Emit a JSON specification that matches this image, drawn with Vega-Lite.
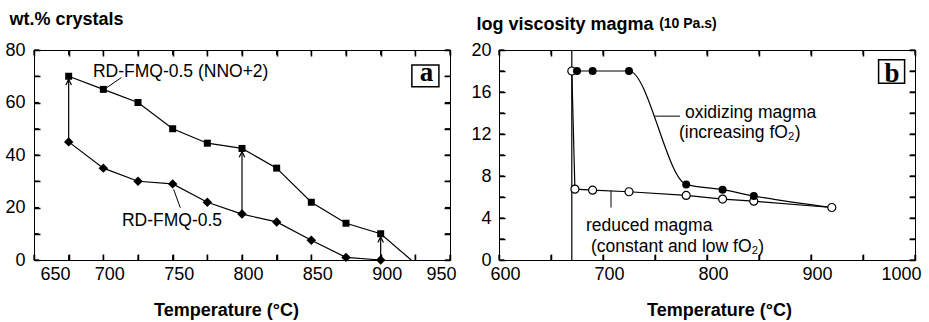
{
  "$schema": "https://vega.github.io/schema/vega-lite/v6.json",
  "background": "white",
  "padding": {"left": 4, "top": 9, "right": 0, "bottom": 0},
  "spacing": 49,
  "bounds": "flush",
  "config": {
    "view": {"stroke": "black", "strokeWidth": 1},
    "axis": {"grid": false, "domain": false, "ticks": true, "zindex": 2, "offset": -6, "tickSize": 6, "tickColor": "black", "tickWidth": 1.5, "labelColor": "black", "titleColor": "black", "labelFont": "Liberation Sans", "titleFont": "Liberation Sans", "labelFontSize": 18, "titleFontSize": 18, "titleFontWeight": "bold", "labelOverlap": false},
    "text": {"font": "Liberation Sans", "color": "black"}
  },
  "datasets": {
    "ticksAx": [{"t": 650}, {"t": 675}, {"t": 700}, {"t": 725}, {"t": 750}, {"t": 775}, {"t": 800}, {"t": 825}, {"t": 850}, {"t": 875}, {"t": 900}, {"t": 925}, {"t": 950}],
    "ticksAy": [{"t": 0}, {"t": 10}, {"t": 20}, {"t": 30}, {"t": 40}, {"t": 50}, {"t": 60}, {"t": 70}, {"t": 80}],
    "ticksBx": [{"t": 600}, {"t": 650}, {"t": 700}, {"t": 750}, {"t": 800}, {"t": 850}, {"t": 900}, {"t": 950}, {"t": 1000}],
    "ticksBy": [{"t": 0}, {"t": 2}, {"t": 4}, {"t": 6}, {"t": 8}, {"t": 10}, {"t": 12}, {"t": 14}, {"t": 16}, {"t": 18}, {"t": 20}],
    "crys": [
      {"series": "NNO+2", "T": 675, "v": 70, "mk": "square"},
      {"series": "NNO+2", "T": 700, "v": 65, "mk": "square"},
      {"series": "NNO+2", "T": 725, "v": 60, "mk": "square"},
      {"series": "NNO+2", "T": 750, "v": 50, "mk": "square"},
      {"series": "NNO+2", "T": 775, "v": 44.5, "mk": "square"},
      {"series": "NNO+2", "T": 800, "v": 42.5, "mk": "square"},
      {"series": "NNO+2", "T": 825, "v": 35, "mk": "square"},
      {"series": "NNO+2", "T": 850, "v": 22, "mk": "square"},
      {"series": "NNO+2", "T": 875, "v": 14, "mk": "square"},
      {"series": "NNO+2", "T": 900, "v": 10, "mk": "square"},
      {"series": "NNO+2", "T": 922, "v": 0, "mk": "none"},
      {"series": "FMQ", "T": 675, "v": 45, "mk": "diamond"},
      {"series": "FMQ", "T": 700, "v": 35, "mk": "diamond"},
      {"series": "FMQ", "T": 725, "v": 30, "mk": "diamond"},
      {"series": "FMQ", "T": 750, "v": 29, "mk": "diamond"},
      {"series": "FMQ", "T": 775, "v": 22, "mk": "diamond"},
      {"series": "FMQ", "T": 800, "v": 17.5, "mk": "diamond"},
      {"series": "FMQ", "T": 825, "v": 14.5, "mk": "diamond"},
      {"series": "FMQ", "T": 850, "v": 7.5, "mk": "diamond"},
      {"series": "FMQ", "T": 875, "v": 1, "mk": "diamond"},
      {"series": "FMQ", "T": 900, "v": 0, "mk": "diamond"}
    ],
    "arrows": [
      {"T": 675, "lo": 45, "hi": 70},
      {"T": 800, "lo": 17.5, "hi": 42.5},
      {"T": 900, "lo": 0, "hi": 10}
    ],
    "leadA": [
      {"T": 702, "v": 65.5, "T2": 713, "v2": 69.5},
      {"T": 750.7, "v": 26.9, "T2": 755.5, "v2": 19.9}
    ],
    "textA": [
      {"T": 692.5, "v": 71.7, "label": "RD-FMQ-0.5 (NNO+2)"},
      {"T": 713.4, "v": 14.9, "label": "RD-FMQ-0.5"}
    ],
    "boxA": [
      {"T": 922.5, "T2": 942, "v": 74.3, "v2": 66, "cx": 933, "cy": 68.3, "letter": "a"}
    ],
    "visc": [
      {"series": "reduced", "T": 670, "v": 18, "mk": "open"},
      {"series": "reduced", "T": 673, "v": 6.75, "mk": "open"},
      {"series": "reduced", "T": 690, "v": 6.65, "mk": "open"},
      {"series": "reduced", "T": 725, "v": 6.5, "mk": "open"},
      {"series": "reduced", "T": 780, "v": 6.15, "mk": "open"},
      {"series": "reduced", "T": 815, "v": 5.8, "mk": "open"},
      {"series": "reduced", "T": 845, "v": 5.6, "mk": "open"},
      {"series": "reduced", "T": 920, "v": 5.0, "mk": "open"},
      {"series": "oxidizing", "T": 675, "v": 18, "mk": "filled"},
      {"series": "oxidizing", "T": 690, "v": 18, "mk": "filled"},
      {"series": "oxidizing", "T": 725, "v": 18, "mk": "filled"},
      {"series": "oxidizing", "T": 780, "v": 7.2, "mk": "filled"},
      {"series": "oxidizing", "T": 815, "v": 6.7, "mk": "filled"},
      {"series": "oxidizing", "T": 845, "v": 6.1, "mk": "filled"},
      {"series": "oxidizing", "T": 920, "v": 5.0, "mk": "none"}
    ],
    "vline": [{"T": 670}],
    "leadB": [
      {"T": 750, "v": 13.7, "T2": 774, "v2": 13.7},
      {"T": 707.7, "v": 6.6, "T2": 707.7, "v2": 5.0}
    ],
    "textB": [
      {"T": 778.8, "v": 14.0, "label": "oxidizing magma"},
      {"T": 773, "v": 12.06, "label": "(increasing fO₂)"},
      {"T": 683.6, "v": 3.25, "label": "reduced magma"},
      {"T": 688.5, "v": 1.24, "label": "(constant and low fO₂)"}
    ],
    "unitB": [{"T": 754, "v": 22.1, "label": "(10 Pa.s)"}],
    "boxB": [
      {"T": 965, "T2": 990, "v": 19.07, "v2": 16.84, "cx": 978, "cy": 17.0, "letter": "b"}
    ]
  },
  "hconcat": [
    {
      "width": 416,
      "height": 210,
      "resolve": {"axis": {"x": "independent", "y": "independent"}},
      "layer": [
        {
          "data": {"name": "crys"},
          "mark": {"type": "line", "color": "black", "strokeWidth": 1.2},
          "encoding": {
            "x": {"field": "T", "type": "quantitative", "scale": {"domain": [650, 950], "nice": false, "zero": false},
              "axis": {"values": [650, 675, 700, 725, 750, 775, 800, 825, 850, 875, 900, 925, 950], "labelExpr": "datum.value % 50 === 0 ? datum.label : ''", "labelPadding": 5, "labelOffset": 6, "title": "Temperature (°C)", "titleX": 192, "titleY": 61, "titleBaseline": "alphabetic", "titleAlign": "center"}},
            "y": {"field": "v", "type": "quantitative", "scale": {"domain": [0, 80], "nice": false, "zero": false},
              "axis": {"values": [0, 10, 20, 30, 40, 50, 60, 70, 80], "labelExpr": "datum.value % 20 === 0 ? datum.label : ''", "labelPadding": 9, "title": "wt.% crystals", "titleAngle": 0, "titleX": -31, "titleY": -26, "titleAlign": "left", "titleBaseline": "alphabetic"}},
            "detail": {"field": "series", "type": "nominal"}
          }
        },
        {
          "data": {"name": "ticksAx"},
          "mark": {"type": "point", "shape": "M0,0L0,-1", "filled": false, "stroke": "black", "strokeWidth": 1.2, "size": 100, "opacity": 1},
          "encoding": {
            "x": {"field": "t", "type": "quantitative", "scale": {"domain": [650, 950], "nice": false, "zero": false}, "axis": null},
            "y": {"datum": 0, "type": "quantitative", "scale": {"domain": [0, 80], "nice": false, "zero": false}, "axis": null}
          }
        },
        {
          "data": {"name": "ticksAx"},
          "mark": {"type": "point", "shape": "M0,0L0,1", "filled": false, "stroke": "black", "strokeWidth": 1.2, "size": 100, "opacity": 1},
          "encoding": {
            "x": {"field": "t", "type": "quantitative", "scale": {"domain": [650, 950], "nice": false, "zero": false}, "axis": null},
            "y": {"datum": 80, "type": "quantitative", "scale": {"domain": [0, 80], "nice": false, "zero": false}, "axis": null}
          }
        },
        {
          "data": {"name": "ticksAy"},
          "mark": {"type": "point", "shape": "M0,0L1,0", "filled": false, "stroke": "black", "strokeWidth": 1.2, "size": 100, "opacity": 1},
          "encoding": {
            "x": {"datum": 650, "type": "quantitative", "scale": {"domain": [650, 950], "nice": false, "zero": false}, "axis": null},
            "y": {"field": "t", "type": "quantitative", "scale": {"domain": [0, 80], "nice": false, "zero": false}, "axis": null}
          }
        },
        {
          "data": {"name": "ticksAy"},
          "mark": {"type": "point", "shape": "M0,0L-1,0", "filled": false, "stroke": "black", "strokeWidth": 1.2, "size": 100, "opacity": 1},
          "encoding": {
            "x": {"datum": 950, "type": "quantitative", "scale": {"domain": [650, 950], "nice": false, "zero": false}, "axis": null},
            "y": {"field": "t", "type": "quantitative", "scale": {"domain": [0, 80], "nice": false, "zero": false}, "axis": null}
          }
        },
        {
          "data": {"name": "arrows"},
          "mark": {"type": "rule", "color": "black", "strokeWidth": 1.2},
          "encoding": {
            "x": {"field": "T", "type": "quantitative", "scale": {"domain": [650, 950], "nice": false, "zero": false}, "axis": null},
            "y": {"field": "lo", "type": "quantitative", "scale": {"domain": [0, 80], "nice": false, "zero": false}, "axis": null},
            "y2": {"field": "hi"}
          }
        },
        {
          "data": {"name": "arrows"},
          "mark": {"type": "point", "shape": "M-0.7,2.2L0,0.8L0.7,2.2", "filled": false, "stroke": "black", "strokeWidth": 1.2, "size": 64, "opacity": 1},
          "encoding": {
            "x": {"field": "T", "type": "quantitative", "scale": {"domain": [650, 950], "nice": false, "zero": false}, "axis": null},
            "y": {"field": "hi", "type": "quantitative", "scale": {"domain": [0, 80], "nice": false, "zero": false}, "axis": null}
          }
        },
        {
          "data": {"name": "crys"},
          "transform": [{"filter": "datum.mk != 'none'"}],
          "mark": {"type": "point", "filled": true, "color": "black", "opacity": 1},
          "encoding": {
            "x": {"field": "T", "type": "quantitative", "scale": {"domain": [650, 950], "nice": false, "zero": false},
              "axis": {"orient": "top", "values": [650, 675, 700, 725, 750, 775, 800, 825, 850, 875, 900, 925, 950], "labels": false, "title": null}},
            "y": {"field": "v", "type": "quantitative", "scale": {"domain": [0, 80], "nice": false, "zero": false},
              "axis": {"orient": "right", "values": [0, 10, 20, 30, 40, 50, 60, 70, 80], "labels": false, "title": null}},
            "shape": {"field": "series", "type": "nominal", "scale": {"domain": ["NNO+2", "FMQ"], "range": ["square", "diamond"]}, "legend": null},
            "size": {"field": "series", "type": "ordinal", "scale": {"domain": ["NNO+2", "FMQ"], "range": [49, 90]}, "legend": null}
          }
        },
        {
          "data": {"name": "leadA"},
          "mark": {"type": "rule", "color": "black", "strokeWidth": 1},
          "encoding": {
            "x": {"field": "T", "type": "quantitative", "scale": {"domain": [650, 950], "nice": false, "zero": false}, "axis": null},
            "y": {"field": "v", "type": "quantitative", "scale": {"domain": [0, 80], "nice": false, "zero": false}, "axis": null},
            "x2": {"field": "T2"},
            "y2": {"field": "v2"}
          }
        },
        {
          "data": {"name": "textA"},
          "mark": {"type": "text", "align": "left", "baseline": "middle", "fontSize": 17.5, "color": "black"},
          "encoding": {
            "x": {"field": "T", "type": "quantitative", "scale": {"domain": [650, 950], "nice": false, "zero": false}, "axis": null},
            "y": {"field": "v", "type": "quantitative", "scale": {"domain": [0, 80], "nice": false, "zero": false}, "axis": null},
            "text": {"field": "label"}
          }
        },
        {
          "data": {"name": "boxA"},
          "mark": {"type": "rect", "fill": "white", "stroke": "black", "strokeWidth": 1.5},
          "encoding": {
            "x": {"field": "T", "type": "quantitative", "scale": {"domain": [650, 950], "nice": false, "zero": false}, "axis": null},
            "x2": {"field": "T2"},
            "y": {"field": "v", "type": "quantitative", "scale": {"domain": [0, 80], "nice": false, "zero": false}, "axis": null},
            "y2": {"field": "v2"}
          }
        },
        {
          "data": {"name": "boxA"},
          "mark": {"type": "text", "align": "center", "baseline": "alphabetic", "font": "Liberation Serif", "fontWeight": "bold", "fontSize": 27, "color": "black"},
          "encoding": {
            "x": {"field": "cx", "type": "quantitative", "scale": {"domain": [650, 950], "nice": false, "zero": false}, "axis": null},
            "y": {"field": "cy", "type": "quantitative", "scale": {"domain": [0, 80], "nice": false, "zero": false}, "axis": null},
            "text": {"field": "letter"}
          }
        }
      ]
    },
    {
      "width": 416,
      "height": 210,
      "resolve": {"axis": {"x": "independent", "y": "independent"}},
      "layer": [
        {
          "data": {"name": "visc"},
          "transform": [{"filter": "datum.series == 'reduced'"}],
          "mark": {"type": "line", "color": "black", "strokeWidth": 1.2},
          "encoding": {
            "x": {"field": "T", "type": "quantitative", "scale": {"domain": [600, 1000], "nice": false, "zero": false},
              "axis": {"values": [600, 650, 700, 750, 800, 850, 900, 950, 1000], "format": "d", "labelExpr": "datum.value % 100 === 0 ? datum.label : ''", "labelPadding": 5, "labelOffset": 6, "labelAlign": {"condition": {"test": "datum.value === 1000", "value": "right"}, "value": "center"}, "title": "Temperature (°C)", "titleX": 220, "titleY": 61, "titleBaseline": "alphabetic", "titleAlign": "center"}},
            "y": {"field": "v", "type": "quantitative", "scale": {"domain": [0, 20], "nice": false, "zero": false},
              "axis": {"values": [0, 2, 4, 6, 8, 10, 12, 14, 16, 18, 20], "labelExpr": "datum.value % 4 === 0 ? datum.label : ''", "labelPadding": 8, "title": "log viscosity magma", "titleAngle": 0, "titleX": -29, "titleY": -21, "titleAlign": "left", "titleBaseline": "alphabetic"}}
          }
        },
        {
          "data": {"name": "ticksBx"},
          "mark": {"type": "point", "shape": "M0,0L0,-1", "filled": false, "stroke": "black", "strokeWidth": 1.2, "size": 100, "opacity": 1},
          "encoding": {
            "x": {"field": "t", "type": "quantitative", "scale": {"domain": [600, 1000], "nice": false, "zero": false}, "axis": null},
            "y": {"datum": 0, "type": "quantitative", "scale": {"domain": [0, 20], "nice": false, "zero": false}, "axis": null}
          }
        },
        {
          "data": {"name": "ticksBx"},
          "mark": {"type": "point", "shape": "M0,0L0,1", "filled": false, "stroke": "black", "strokeWidth": 1.2, "size": 100, "opacity": 1},
          "encoding": {
            "x": {"field": "t", "type": "quantitative", "scale": {"domain": [600, 1000], "nice": false, "zero": false}, "axis": null},
            "y": {"datum": 20, "type": "quantitative", "scale": {"domain": [0, 20], "nice": false, "zero": false}, "axis": null}
          }
        },
        {
          "data": {"name": "ticksBy"},
          "mark": {"type": "point", "shape": "M0,0L1,0", "filled": false, "stroke": "black", "strokeWidth": 1.2, "size": 100, "opacity": 1},
          "encoding": {
            "x": {"datum": 600, "type": "quantitative", "scale": {"domain": [600, 1000], "nice": false, "zero": false}, "axis": null},
            "y": {"field": "t", "type": "quantitative", "scale": {"domain": [0, 20], "nice": false, "zero": false}, "axis": null}
          }
        },
        {
          "data": {"name": "ticksBy"},
          "mark": {"type": "point", "shape": "M0,0L-1,0", "filled": false, "stroke": "black", "strokeWidth": 1.2, "size": 100, "opacity": 1},
          "encoding": {
            "x": {"datum": 1000, "type": "quantitative", "scale": {"domain": [600, 1000], "nice": false, "zero": false}, "axis": null},
            "y": {"field": "t", "type": "quantitative", "scale": {"domain": [0, 20], "nice": false, "zero": false}, "axis": null}
          }
        },
        {
          "data": {"name": "visc"},
          "transform": [{"filter": "datum.series == 'oxidizing'"}],
          "mark": {"type": "line", "color": "black", "strokeWidth": 1.2, "interpolate": "monotone"},
          "encoding": {
            "x": {"field": "T", "type": "quantitative", "scale": {"domain": [600, 1000], "nice": false, "zero": false}, "axis": null},
            "y": {"field": "v", "type": "quantitative", "scale": {"domain": [0, 20], "nice": false, "zero": false}, "axis": null}
          }
        },
        {
          "data": {"name": "vline"},
          "mark": {"type": "rule", "color": "black", "strokeWidth": 1.2},
          "encoding": {
            "x": {"field": "T", "type": "quantitative", "scale": {"domain": [600, 1000], "nice": false, "zero": false}, "axis": null}
          }
        },
        {
          "data": {"name": "visc"},
          "transform": [{"filter": "datum.mk == 'open'"}],
          "mark": {"type": "point", "shape": "circle", "filled": true, "fill": "white", "stroke": "black", "strokeWidth": 1.2, "size": 64, "opacity": 1},
          "encoding": {
            "x": {"field": "T", "type": "quantitative", "scale": {"domain": [600, 1000], "nice": false, "zero": false},
              "axis": {"orient": "top", "values": [600, 650, 700, 750, 800, 850, 900, 950, 1000], "labels": false, "title": null}},
            "y": {"field": "v", "type": "quantitative", "scale": {"domain": [0, 20], "nice": false, "zero": false},
              "axis": {"orient": "right", "values": [0, 2, 4, 6, 8, 10, 12, 14, 16, 18, 20], "labels": false, "title": null}}
          }
        },
        {
          "data": {"name": "visc"},
          "transform": [{"filter": "datum.mk == 'filled'"}],
          "mark": {"type": "point", "shape": "circle", "filled": true, "color": "black", "size": 64, "opacity": 1},
          "encoding": {
            "x": {"field": "T", "type": "quantitative", "scale": {"domain": [600, 1000], "nice": false, "zero": false}, "axis": null},
            "y": {"field": "v", "type": "quantitative", "scale": {"domain": [0, 20], "nice": false, "zero": false}, "axis": null}
          }
        },
        {
          "data": {"name": "leadB"},
          "mark": {"type": "rule", "color": "black", "strokeWidth": 1},
          "encoding": {
            "x": {"field": "T", "type": "quantitative", "scale": {"domain": [600, 1000], "nice": false, "zero": false}, "axis": null},
            "y": {"field": "v", "type": "quantitative", "scale": {"domain": [0, 20], "nice": false, "zero": false}, "axis": null},
            "x2": {"field": "T2"},
            "y2": {"field": "v2"}
          }
        },
        {
          "data": {"name": "textB"},
          "mark": {"type": "text", "align": "left", "baseline": "middle", "fontSize": 17.5, "color": "black"},
          "encoding": {
            "x": {"field": "T", "type": "quantitative", "scale": {"domain": [600, 1000], "nice": false, "zero": false}, "axis": null},
            "y": {"field": "v", "type": "quantitative", "scale": {"domain": [0, 20], "nice": false, "zero": false}, "axis": null},
            "text": {"field": "label"}
          }
        },
        {
          "data": {"name": "unitB"},
          "mark": {"type": "text", "align": "left", "baseline": "alphabetic", "fontSize": 14, "fontWeight": "bold", "color": "black"},
          "encoding": {
            "x": {"field": "T", "type": "quantitative", "scale": {"domain": [600, 1000], "nice": false, "zero": false}, "axis": null},
            "y": {"field": "v", "type": "quantitative", "scale": {"domain": [0, 20], "nice": false, "zero": false}, "axis": null},
            "text": {"field": "label"}
          }
        },
        {
          "data": {"name": "boxB"},
          "mark": {"type": "rect", "fill": "white", "stroke": "black", "strokeWidth": 1.5},
          "encoding": {
            "x": {"field": "T", "type": "quantitative", "scale": {"domain": [600, 1000], "nice": false, "zero": false}, "axis": null},
            "x2": {"field": "T2"},
            "y": {"field": "v", "type": "quantitative", "scale": {"domain": [0, 20], "nice": false, "zero": false}, "axis": null},
            "y2": {"field": "v2"}
          }
        },
        {
          "data": {"name": "boxB"},
          "mark": {"type": "text", "align": "center", "baseline": "alphabetic", "font": "Liberation Serif", "fontWeight": "bold", "fontSize": 27, "color": "black"},
          "encoding": {
            "x": {"field": "cx", "type": "quantitative", "scale": {"domain": [600, 1000], "nice": false, "zero": false}, "axis": null},
            "y": {"field": "cy", "type": "quantitative", "scale": {"domain": [0, 20], "nice": false, "zero": false}, "axis": null},
            "text": {"field": "letter"}
          }
        }
      ]
    }
  ]
}
